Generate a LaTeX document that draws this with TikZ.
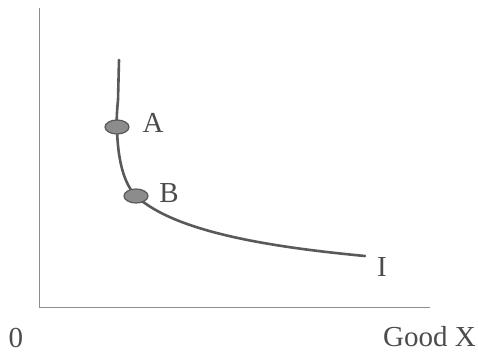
\documentclass[tikz,border=0pt]{standalone}
\usepackage{fontspec}
\setmainfont{Liberation Serif}
\usetikzlibrary{shapes.geometric}
\begin{document}
\begin{tikzpicture}[x=1pt,y=-1pt,
  axisline/.style={draw=black!45,line width=1pt},
  curveline/.style={draw=black!65,line width=2.6pt,line cap=round},
  pointdot/.style={ellipse,draw=black!65,line width=1.2pt,fill=black!45,minimum width=24pt,minimum height=14pt,inner sep=0pt},
  lbl/.style={font=\fontsize{29}{32}\selectfont,text=black!70,inner sep=0pt}]
\useasboundingbox (0,0) rectangle (478,355);
\coordinate (top) at (39,8);
\coordinate (origin) at (39,307);
\coordinate (right) at (430,307);
\draw[axisline] (top) -- (origin) -- (right);
\coordinate (c0) at (119,60);
\coordinate (c1) at (117,127);
\coordinate (c2) at (136,196);
\coordinate (c3) at (365,256);
\draw[curveline] (c0) -- (118,100) .. controls (116.5,115) and (116.5,125) .. (c1)
  .. controls (117.5,160) and (124,184) .. (c2)
  .. controls (175,232) and (270,247) .. (c3);
\node[pointdot] (A) at (c1) {};
\node[pointdot] (B) at (c2) {};
\node[lbl] (la) at (153,123) {A};
\node[lbl] (lb) at (169,193) {B};
\node[lbl] (li) at (382,267) {I};
\node[lbl] (lo) at (16,338) {0};
\node[lbl,anchor=east] (lx) at (476,337) {Good X};
\end{tikzpicture}
\end{document}
